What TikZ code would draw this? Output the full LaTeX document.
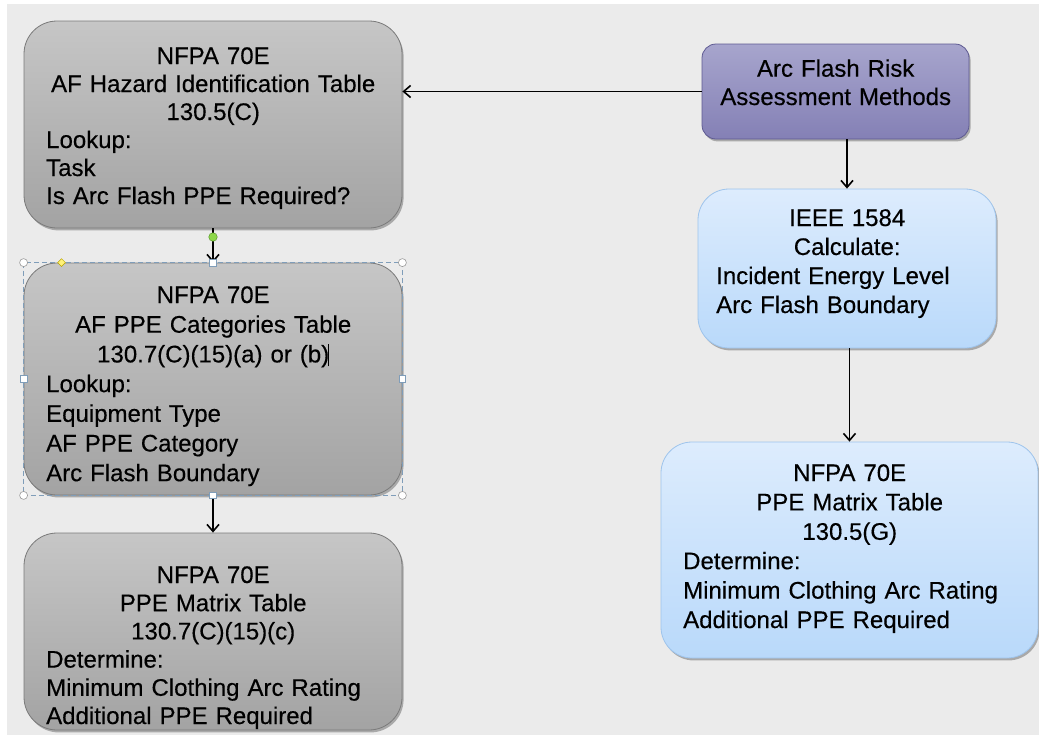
\documentclass[tikz,border=0pt]{standalone}
\usepackage{fontspec}
\setmainfont{Liberation Sans}[FakeBold=0.35]
\usetikzlibrary{arrows.meta,shapes.geometric}
\definecolor{bggray}{HTML}{EBEBEB}
\definecolor{gtop}{HTML}{C6C6C6}
\definecolor{gbot}{HTML}{A3A3A3}
\definecolor{gedge}{HTML}{7A7A7A}
\definecolor{ptop}{HTML}{A7A5CD}
\definecolor{pbot}{HTML}{8480B5}
\definecolor{pedge}{HTML}{5E5A92}
\definecolor{btop}{HTML}{DDECFD}
\definecolor{bbot}{HTML}{B9D9FA}
\definecolor{bedge}{HTML}{9EC4EC}
\definecolor{selblue}{HTML}{7F9DB9}
\definecolor{dotgreen}{HTML}{8ED84A}
\definecolor{dotedge}{HTML}{5A9A2A}
\definecolor{diayellow}{HTML}{FFF27A}
\definecolor{diaedge}{HTML}{B8A400}
\newcommand\ctr[1]{\makebox[\linewidth]{#1}}
\tikzset{
  boxbase/.style={inner sep=0pt, line width=0.8pt,
    preaction={fill=black, opacity=0.28, transform canvas={xshift=1.6pt, yshift=-2.4pt}}},
  graybox/.style={boxbase, rounded corners=33pt, draw=gedge, top color=gtop, bottom color=gbot},
  purplebox/.style={boxbase, rounded corners=14pt, draw=pedge, top color=ptop, bottom color=pbot},
  bluebox/.style={boxbase, rounded corners=31pt, draw=bedge, top color=btop, bottom color=bbot},
  txt/.style={inner sep=0pt, align=left, anchor=base west, text=black},
  arr/.style={line width=1.7pt, -{Straight Barb[length=7pt, width=12pt, line width=1.6pt]}},
  handlecirc/.style={circle, draw=gray!80, fill=white, line width=0.6pt, minimum size=8pt, inner sep=0pt},
  handlesq/.style={rectangle, draw=selblue, fill=white, line width=0.6pt, minimum size=6.5pt, inner sep=0pt},
}
\begin{document}
\begin{tikzpicture}[x=1pt,y=-1pt]
\fill[white] (0,0) rectangle (1039,745);
\useasboundingbox (0,0) rectangle (1039,745);
\fill[bggray] (7,4) rectangle (1039,735);

% boxes
\node[graybox, minimum width=378pt, minimum height=207pt] (b1) at (213,124.5) {};
\node[graybox, minimum width=378pt, minimum height=232pt] (b2) at (213,379) {};
\node[graybox, minimum width=378pt, minimum height=197pt] (b3) at (213,631.5) {};
\node[purplebox, minimum width=267pt, minimum height=95pt] (p) at (835.5,91.5) {};
\node[bluebox, minimum width=298pt, minimum height=159pt] (ieee) at (847,268.5) {};
\node[bluebox, minimum width=377pt, minimum height=216pt] (rb) at (849.5,550) {};

% texts
\node[txt, text width=334pt, font=\fontsize{24}{28}\selectfont] (t1) at (46,64)
  {\ctr{NFPA 70E}\\\ctr{AF Hazard Identification Table}\\\ctr{130.5(C)}\\Lookup:\\Task\\Is Arc Flash PPE Required?};
\node[txt, text width=334pt, font=\fontsize{24}{29.7}\selectfont] (t2) at (46,303)
  {\ctr{NFPA 70E}\\\ctr{AF PPE Categories Table}\\\ctr{130.7(C)(15)(a) or (b)\rlap{\hspace{-1.5pt}\rule[-4pt]{0.7pt}{22pt}}}\\Lookup:\\Equipment Type\\AF PPE Category\\Arc Flash Boundary};
\node[txt, text width=334pt, font=\fontsize{24}{28.2}\selectfont] (t3) at (46,583)
  {\ctr{NFPA 70E}\\\ctr{PPE Matrix Table}\\\ctr{130.7(C)(15)(c)}\\Determine:\\Minimum Clothing Arc Rating\\Additional PPE Required};
\node[txt, text width=267pt, font=\fontsize{24}{28.3}\selectfont] (tp) at (702,76.7)
  {\ctr{Arc Flash Risk}\\\ctr{Assessment Methods}};
\node[txt, text width=262pt, font=\fontsize{24}{29}\selectfont] (ti) at (716,226)
  {\ctr{IEEE 1584}\\\ctr{Calculate:}\\Incident Energy Level\\Arc Flash Boundary};
\node[txt, text width=333pt, font=\fontsize{24}{29.4}\selectfont] (tr) at (683,481)
  {\ctr{NFPA 70E}\\\ctr{PPE Matrix Table}\\\ctr{130.5(G)}\\Determine:\\Minimum Clothing Arc Rating\\Additional PPE Required};

% connectors
\draw[arr] (p.west) -- (p.west -| b1.east);
\draw[arr] (ieee.north |- p.south) -- (ieee.north);
\draw[arr] (rb.north |- ieee.south) -- (rb.north);
\draw[arr] (b1.south -| b2.north) -- (b2.north);
\draw[arr] (b2.south) -- (b3.north);

% selection handles around the second box
\draw[selblue, line width=0.7pt, dash pattern=on 5pt off 3pt] (b2.north west) rectangle (b2.south east);
\node[handlecirc] (hc1) at (b2.north west) {};
\node[handlecirc] (hc2) at (b2.north east) {};
\node[handlecirc] (hc3) at (b2.south west) {};
\node[handlecirc] (hc4) at (b2.south east) {};
\node[handlesq] (hs1) at (b2.north) {};
\node[handlesq] (hs2) at (b2.south) {};
\node[handlesq] (hs3) at (b2.west) {};
\node[handlesq] (hs4) at (b2.east) {};
\node[diamond, draw=diaedge, fill=diayellow, line width=0.5pt, minimum size=8pt, inner sep=0pt] (hd) at ([xshift=38pt]b2.north west) {};
\node[circle, draw=dotedge, fill=dotgreen, line width=0.5pt, minimum size=8.5pt, inner sep=0pt] (gd) at (b2.north |- 0,237) {};
\end{tikzpicture}
\end{document}
